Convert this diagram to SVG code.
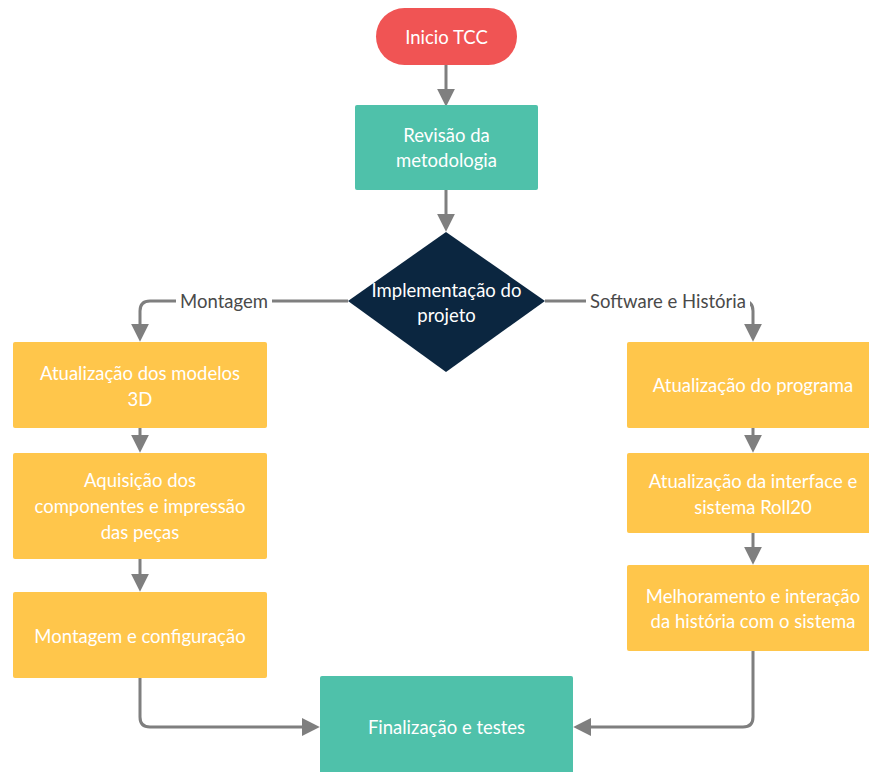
<svg xmlns="http://www.w3.org/2000/svg" width="869" height="772" viewBox="0 0 869 772">
<defs>
<style>
.t{font-family:Lato,"Open Sans","Liberation Sans",sans-serif;font-size:18.5px;fill:#ffffff;text-anchor:middle;dominant-baseline:central}
.lbl{font-family:Lato,"Open Sans","Liberation Sans",sans-serif;font-size:18.5px;fill:#4a4a4a;text-anchor:middle;dominant-baseline:central}
.c{fill:none;stroke:#7f7f7f;stroke-width:3}
.y{fill:#ffc64b}
.g{fill:#4fc1aa}
</style>
<marker id="ah" markerWidth="6" markerHeight="6" refX="3.4" refY="3" orient="auto" markerUnits="strokeWidth" viewBox="0 0 6 6">
<path d="M0,0 L6,3 L0,6 Z" fill="#7f7f7f"/>
</marker>
</defs>
<rect width="869" height="772" fill="#ffffff"/>
<g id="connectors">
<path class="c" d="M446,65 V99" marker-end="url(#ah)"/>
<path class="c" d="M446,190 V224" marker-end="url(#ah)"/>
<path class="c" d="M348,301 H150 Q140,301 140,311 V334" marker-end="url(#ah)"/>
<path class="c" d="M545,301 H743 Q753,301 753,311 V334" marker-end="url(#ah)"/>
<path class="c" d="M140,428 V445" marker-end="url(#ah)"/>
<path class="c" d="M140,559 V584" marker-end="url(#ah)"/>
<path class="c" d="M753,428 V445" marker-end="url(#ah)"/>
<path class="c" d="M753,533 V557" marker-end="url(#ah)"/>
<path class="c" d="M140,678 V717 Q140,727 150,727 H312" marker-end="url(#ah)"/>
<path class="c" d="M753,651 V717 Q753,727 743,727 H581" marker-end="url(#ah)"/>
<rect x="176" y="289" width="96" height="24" fill="#ffffff"/>
<text class="lbl" x="224" y="301">Montagem</text>
<rect x="586" y="289" width="164" height="24" fill="#ffffff"/>
<text class="lbl" x="668" y="301">Software e História</text>
</g>
<g id="inicio">
<rect x="376" y="8" width="141" height="57" rx="28.5" fill="#f05454"/>
<text class="t" x="446.5" y="37">Inicio TCC</text>
</g>
<g id="revisao">
<rect class="g" x="355" y="105" width="183" height="85" rx="2"/>
<text class="t" x="446.5" y="135">Revisão da</text>
<text class="t" x="446.5" y="160">metodologia</text>
</g>
<g id="implementacao">
<polygon points="446,232 545,301 446,372 348,301" fill="#0b2640"/>
<text class="t" x="446.5" y="290">Implementação do</text>
<text class="t" x="446.5" y="315">projeto</text>
</g>
<g id="modelos3d">
<rect class="y" x="13" y="342" width="254" height="86" rx="2"/>
<text class="t" x="140" y="373">Atualização dos modelos</text>
<text class="t" x="140" y="399">3D</text>
</g>
<g id="aquisicao">
<rect class="y" x="13" y="453" width="254" height="106" rx="2"/>
<text class="t" x="140" y="480">Aquisição dos</text>
<text class="t" x="140" y="506">componentes e impressão</text>
<text class="t" x="140" y="532">das peças</text>
</g>
<g id="montagem">
<rect class="y" x="13" y="592" width="254" height="86" rx="2"/>
<text class="t" x="140" y="636">Montagem e configuração</text>
</g>
<g id="programa">
<rect class="y" x="627" y="342" width="253" height="86" rx="2"/>
<text class="t" x="753" y="385">Atualização do programa</text>
</g>
<g id="interface">
<rect class="y" x="627" y="453" width="253" height="80" rx="2"/>
<text class="t" x="753" y="481">Atualização da interface e</text>
<text class="t" x="753" y="507">sistema Roll20</text>
</g>
<g id="melhoramento">
<rect class="y" x="627" y="565" width="253" height="86" rx="2"/>
<text class="t" x="753" y="596">Melhoramento e interação</text>
<text class="t" x="753" y="621">da história com o sistema</text>
</g>
<g id="finalizacao">
<rect class="g" x="320" y="676" width="253" height="110" rx="2"/>
<text class="t" x="446.5" y="727">Finalização e testes</text>
</g>
</svg>
